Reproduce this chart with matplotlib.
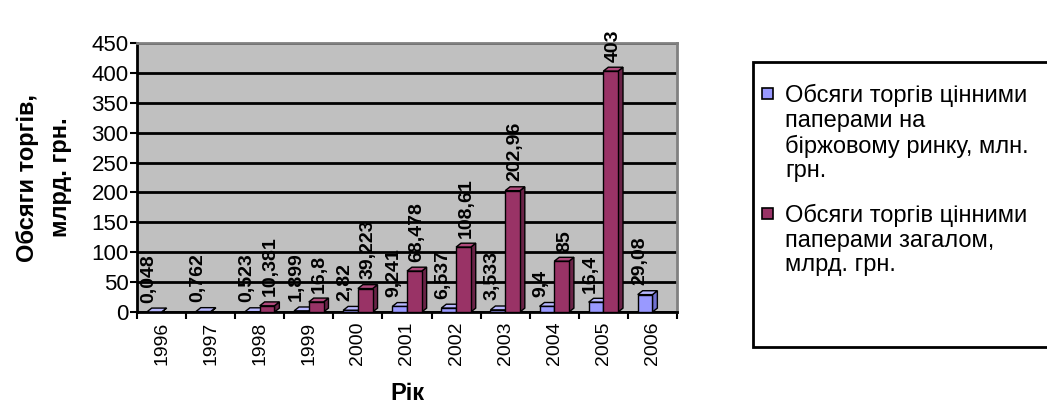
import numpy as np
import matplotlib
matplotlib.use('Agg')
import matplotlib.pyplot as plt
from matplotlib.patches import Polygon, Rectangle

plt.rcParams['font.family'] = ['Liberation Sans', 'DejaVu Sans']

years = ['1996', '1997', '1998', '1999', '2000', '2001', '2002', '2003', '2004', '2005', '2006']
exchange = [0.048, 0.762, 0.523, 1.899, 2.82, 9.241, 6.537, 3.533, 9.4, 16.4, 29.08]
total = [np.nan, np.nan, 10.381, 16.8, 39.223, 68.478, 108.61, 202.96, 85, 403, np.nan]
series_names = ['Обсяги торгів цінними\nпаперами на\nбіржовому ринку, млн.\nгрн.',
                'Обсяги торгів цінними\nпаперами загалом,\nмлрд. грн.']
colors = ['#9999FF', '#993366']
side_colors = ['#7070D0', '#6A2347']
top_colors = ['#B8B8FF', '#B04A7C']

W, H = 1047, 412
fig = plt.figure(figsize=(W / 100, H / 100), dpi=100)
ax = fig.add_axes([137 / W, 1 - 312 / H, 540 / W, 269 / H])
ax.set_facecolor('#C0C0C0')

x = np.arange(len(years))
w = 0.3
# depth of the fake 3d bars in data units
dx = 0.1
dy = 6.5


def fmt(v):
    return f'{v:g}'.replace('.', ',')


# labels of the two series are nudged apart a little, as in the original
for i, (vals, off, nudge) in enumerate([(exchange, -0.15, -4), (total, 0.15, 2)]):
    for xi, v in zip(x, vals):
        if np.isnan(v):
            continue
        x0 = xi + off - w / 2
        x1 = x0 + w
        ax.add_patch(Polygon([(x1, 0), (x1 + dx, dy), (x1 + dx, v + dy), (x1, v)],
                             closed=True, facecolor=side_colors[i], edgecolor='black', lw=1, zorder=3))
        ax.add_patch(Polygon([(x0, v), (x1, v), (x1 + dx, v + dy), (x0 + dx, v + dy)],
                             closed=True, facecolor=top_colors[i], edgecolor='black', lw=1, zorder=3))
        ax.bar(xi + off, v, width=w, color=colors[i], edgecolor='black', lw=1, zorder=4)
        ax.annotate(fmt(v), (xi + off, v + dy), xytext=(nudge, 4), textcoords='offset points',
                    rotation=90, ha='center', va='bottom', fontsize=14, fontweight='bold',
                    zorder=6, annotation_clip=False)

ax.set_xlim(-0.5, len(years) - 0.5)
ax.set_ylim(0, 450)
ax.set_yticks(np.arange(0, 451, 50))
ax.tick_params(axis='y', labelsize=16, length=5, width=1.5, direction='out', pad=1)
ax.set_xticks(np.arange(-0.5, len(years), 1))
ax.set_xticklabels([])
ax.set_xticks(x, minor=True)
ax.set_xticklabels(years, minor=True, rotation=90, fontsize=14)
ax.tick_params(axis='x', which='major', length=5, width=1.5, direction='out')
ax.tick_params(axis='x', which='minor', length=0, pad=7)

ax.grid(axis='y', color='black', lw=2, zorder=1)
ax.set_axisbelow(True)
for s in ['left', 'bottom']:
    ax.spines[s].set_linewidth(2)
for s in ['top', 'right']:
    ax.spines[s].set_color('#808080')
    ax.spines[s].set_linewidth(2)

ax.set_ylabel('Обсяги торгів,\nмлрд. грн.', fontsize=17, fontweight='bold', labelpad=14,
              linespacing=1.55)
ax.set_xlabel('Рік', fontsize=17, fontweight='bold', labelpad=12)

# legend: box runs past the right edge like the original
fig.patches.append(Rectangle((753 / W, 1 - 347 / H), 0.3, 285 / H, transform=fig.transFigure,
                             facecolor='white', edgecolor='black', lw=2, zorder=0))
entry_tops = [84, 204]
for name, c, top in zip(series_names, colors, entry_tops):
    fig.patches.append(Rectangle((762 / W, 1 - (top + 15) / H), 11 / W, 11 / H,
                                 transform=fig.transFigure, facecolor=c, edgecolor='black', lw=1.2))
    fig.text(785 / W, 1 - top / H, name, fontsize=17, va='top', ha='left', linespacing=1.15)

fig.savefig('out.png', dpi=100)
